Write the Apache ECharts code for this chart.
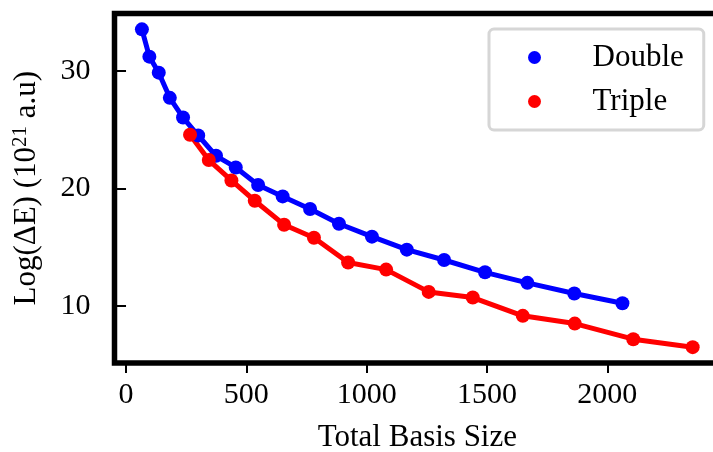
<!DOCTYPE html>
<html>
<head>
<meta charset="utf-8">
<script src="https://cdn.jsdelivr.net/npm/echarts@6/dist/echarts.min.js"></script>
<style>
  html, body { margin: 0; padding: 0; background: #fff; }
  #chart { width: 713px; height: 452px; }
</style>
</head>
<body>
<div id="chart"></div>
<script>
// values
const doubleX = [66, 97, 136, 182, 237, 300, 374, 456, 549, 651, 765, 885, 1022, 1167, 1322, 1492, 1668, 1863, 2063];
const doubleY = [33.57, 31.24, 29.88, 27.73, 26.05, 24.52, 22.79, 21.8, 20.3, 19.33, 18.26, 17.0, 15.9, 14.79, 13.91, 12.86, 11.96, 11.05, 10.22];
const tripleX = [266, 344, 438, 535, 657, 781, 923, 1081, 1258, 1441, 1649, 1865, 2108, 2355];
const tripleY = [24.58, 22.43, 20.69, 18.96, 16.92, 15.81, 13.69, 13.09, 11.19, 10.71, 9.15, 8.49, 7.16, 6.48];
const xTicks = [0, 500, 1000, 1500, 2000];
const yTicks = [10, 20, 30];

const FONT = "Liberation Serif";

const zip = (xs, ys) => xs.map((x, i) => [x, ys[i]]);

let myChart = echarts.init(document.getElementById("chart"));
myChart.setOption({
  animation: false,
  grid: {
    left: 114.5,
    top: 13.5,
    width: 605.7,
    height: 349.5,
    outerBoundsMode: "none",
    containLabel: false,
    show: true,
    borderColor: "#000",
    borderWidth: 5.5,
    backgroundColor: "#fff",
  },
  legend: {
    left: 489,
    top: 29,
    orient: "vertical",
    icon: "circle",
    itemWidth: 60,
    itemHeight: 13,
    itemGap: 13,
    padding: [13, 20, 13, 39],
    borderColor: "#d6d6d6",
    borderWidth: 3,
    borderRadius: 5,
    backgroundColor: "#fff",
    textStyle: {
      fontFamily: FONT,
      fontSize: 31,
      color: "#000",
      padding: [0, 0, 0, 23],
    },
    data: ["Double", "Triple"],
  },
  xAxis: {
    type: "value",
    min: -47.9,
    max: 2469.4,
    name: "Total Basis Size",
    nameLocation: "middle",
    nameGap: 59,
    nameTextStyle: { fontFamily: FONT, fontSize: 31, color: "#000" },
    axisLine: { show: false },
    splitLine: { show: false },
    axisTick: {
      show: true,
      length: 10,
      customValues: xTicks,
      lineStyle: { color: "#000", width: 2 },
    },
    axisLabel: {
      customValues: xTicks,
      formatter: (v) => String(v),
      margin: 17,
      fontFamily: FONT,
      fontSize: 30,
      color: "#000",
    },
  },
  yAxis: {
    type: "value",
    min: 5.13,
    max: 34.92,
    name: "Log(ΔE) (10{sup|21} a.u)",
    nameLocation: "middle",
    nameGap: 70,
    nameTextStyle: {
      fontFamily: FONT,
      fontSize: 31,
      color: "#000",
      rich: {
        sup: { fontFamily: FONT, fontSize: 21, color: "#000", padding: [0, 0, 14, 0] },
      },
    },
    axisLine: { show: false },
    splitLine: { show: false },
    axisTick: {
      show: true,
      length: 10,
      customValues: yTicks,
      lineStyle: { color: "#000", width: 2 },
    },
    axisLabel: {
      customValues: yTicks,
      formatter: (v) => String(v),
      margin: 24,
      fontFamily: FONT,
      fontSize: 30,
      color: "#000",
    },
  },
  series: [
    {
      name: "Double",
      type: "line",
      data: zip(doubleX, doubleY),
      symbol: "circle",
      symbolSize: 14,
      color: "#0000ff",
      lineStyle: { width: 5, color: "#0000ff" },
      itemStyle: { color: "#0000ff" },
    },
    {
      name: "Triple",
      type: "line",
      data: zip(tripleX, tripleY),
      symbol: "circle",
      symbolSize: 14,
      color: "#ff0000",
      lineStyle: { width: 5, color: "#ff0000" },
      itemStyle: { color: "#ff0000" },
    },
  ],
});
</script>
</body>
</html>
